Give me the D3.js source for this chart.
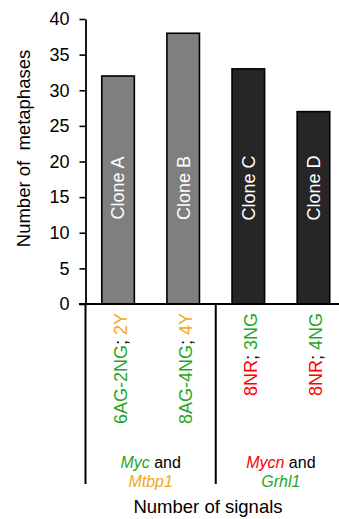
<!DOCTYPE html>
<html>
<head>
<meta charset="utf-8">
<script src="https://cdn.jsdelivr.net/npm/d3@7"></script>
<style>
  html, body { margin: 0; padding: 0; background: #fff; }
  svg { display: block; font-family: "Liberation Sans", Arial, sans-serif; }
</style>
</head>
<body>
<svg id="chart" width="339" height="519"></svg>
<script>
// Data
const clones = ["Clone A", "Clone B", "Clone C", "Clone D"];
const metaphases = [32, 38, 33, 27];
const barColors = ["#7f7f7f", "#7f7f7f", "#262626", "#262626"];
// Signal labels: [text, colour] segments per clone
const signalLabels = [
  [["6AG-2NG", "#1fa81f"], [";", "#000"], [" 2Y", "#f5a623"]],
  [["8AG-4NG", "#1fa81f"], [";", "#000"], [" 4Y", "#f5a623"]],
  [["8NR", "#ff0000"], [";", "#000"], [" 3NG", "#1fa81f"]],
  [["8NR", "#ff0000"], [";", "#000"], [" 4NG", "#1fa81f"]]
];
// Probe groups: each spans two clones
const groups = [
  { from: 0, to: 1, line1: [["Myc", "#1fa81f", true], [" and", "#000", false]], line2: [["Mtbp1", "#f5a623", true]] },
  { from: 2, to: 3, line1: [["Mycn", "#ff0000", true], [" and", "#000", false]], line2: [["Grhl1", "#1fa81f", true]] }
];
const yTicks = [0, 5, 10, 15, 20, 25, 30, 35, 40];

const svg = d3.select("#chart");

const x = d3.scaleBand().domain(clones).range([85.5, 346]).paddingInner(0.5).paddingOuter(0.25);
const y = d3.scaleLinear().domain([0, 40]).range([304, 19]);
const groupBottom = 484;

// Bars
svg.append("g").selectAll("rect")
  .data(clones)
  .join("rect")
  .attr("x", d => x(d))
  .attr("y", (d, i) => y(metaphases[i]))
  .attr("width", x.bandwidth())
  .attr("height", (d, i) => y(0) - y(metaphases[i]))
  .attr("fill", (d, i) => barColors[i])
  .attr("stroke", "#000")
  .attr("stroke-width", 1.6);

// Clone names inside bars
svg.append("g").selectAll("text")
  .data(clones)
  .join("text")
  .attr("transform", d => `translate(${x(d) + x.bandwidth() / 2},188) rotate(-90)`)
  .attr("text-anchor", "middle")
  .attr("dy", "0.35em")
  .attr("font-size", 18)
  .attr("fill", "#fff")
  .text(d => d);

// Y axis
const yAxis = svg.append("g")
  .attr("transform", "translate(85.5,0)")
  .call(d3.axisLeft(y).tickValues(yTicks).tickSize(6).tickPadding(10).tickSizeOuter(0));
yAxis.select(".domain").attr("stroke", "#000").attr("stroke-width", 1.8);
yAxis.selectAll(".tick line").attr("stroke", "#000").attr("stroke-width", 1.6);
yAxis.selectAll(".tick text").attr("font-size", 18).attr("fill", "#000")
  .attr("font-family", "Liberation Sans, Arial, sans-serif");

// X axis baseline
svg.append("line")
  .attr("x1", 79).attr("x2", 339)
  .attr("y1", y(0)).attr("y2", y(0))
  .attr("stroke", "#000").attr("stroke-width", 2);

// Group separators below the axis
const separators = [x.range()[0], (x(clones[1]) + x.bandwidth() + x(clones[2])) / 2, x.range()[1]];
svg.append("g").selectAll("line")
  .data(separators)
  .join("line")
  .attr("x1", d => d).attr("x2", d => d)
  .attr("y1", y(0)).attr("y2", groupBottom)
  .attr("stroke", "#000").attr("stroke-width", 2);

// Signal labels under each bar
const sig = svg.append("g").selectAll("text")
  .data(clones)
  .join("text")
  .attr("transform", d => `translate(${x(d) + x.bandwidth() / 2 + 2.5},313) rotate(-90)`)
  .attr("text-anchor", "end")
  .attr("dy", "0.35em")
  .attr("font-size", 18)
  .style("white-space", "pre");
sig.each(function (d, i) {
  d3.select(this).selectAll("tspan")
    .data(signalLabels[i])
    .join("tspan")
    .attr("fill", s => s[1])
    .text(s => s[0]);
});

// Group labels
groups.forEach(g => {
  const cx = (separators[g.from === 0 ? 0 : 1] + separators[g.from === 0 ? 1 : 2]) / 2;
  [[g.line1, 468], [g.line2, 487]].forEach(([segs, yy]) => {
    const t = svg.append("text")
      .attr("x", cx).attr("y", yy)
      .attr("text-anchor", "middle")
      .attr("font-size", 16)
      .style("white-space", "pre");
    t.selectAll("tspan").data(segs).join("tspan")
      .attr("fill", s => s[1])
      .attr("font-style", s => s[2] ? "italic" : "normal")
      .text(s => s[0]);
  });
});

// Axis titles
svg.append("text")
  .attr("transform", "translate(23.5,148.5) rotate(-90)")
  .attr("text-anchor", "middle")
  .attr("dy", "0.35em")
  .attr("font-size", 18.5)
  .style("white-space", "pre")
  .text("Number of  metaphases");

svg.append("text")
  .attr("x", 208).attr("y", 513)
  .attr("text-anchor", "middle")
  .attr("font-size", 18.5)
  .text("Number of signals");
</script>
</body>
</html>
